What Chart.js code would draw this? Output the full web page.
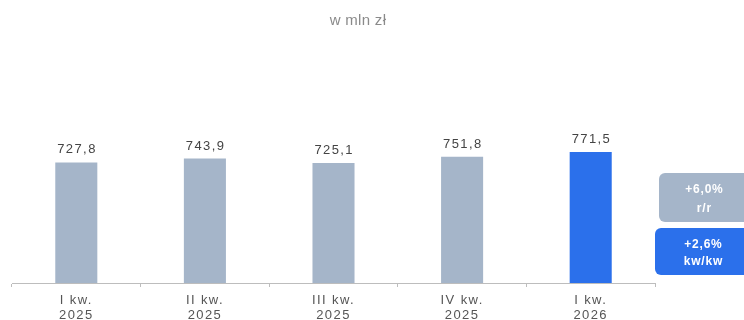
<!DOCTYPE html>
<html lang="pl">
<head>
<meta charset="utf-8">
<title>w mln zł</title>
<script src="https://cdn.jsdelivr.net/npm/chart.js@4/dist/chart.umd.min.js"></script>
<style>
  html, body { margin: 0; padding: 0; background: #ffffff; }
  #wrap { position: relative; width: 744px; height: 320px; }
</style>
</head>
<body>
<div id="wrap"><canvas id="chart" width="744" height="320"></canvas></div>
<script>
// Kwartały (etykiety osi X, dwie linie)
const quarters = [
  ['I kw.', '2025'],
  ['II kw.', '2025'],
  ['III kw.', '2025'],
  ['IV kw.', '2025'],
  ['I kw.', '2026']
];

// Wartości w mln zł
const values = [727.8, 743.9, 725.1, 751.8, 771.5];

// Zmiany dla ostatniego kwartału
const changeValues = ['+6,0%', '+2,6%'];
const changeLabels = ['r/r', 'kw/kw'];

// Zakres osi wartości (oś ukryta)
const axisMin = 219;
const axisMax = 1244;

const GREY = '#a5b5c9';
const BLUE = '#2b70eb';
const FONT = '"Liberation Sans", Arial, sans-serif';

const barColors = values.map((v, i) => i === values.length - 1 ? BLUE : GREY);

const fmt = v => v.toFixed(1).replace('.', ',');

// Odstępy między literami dla całego tekstu wykresu
const spacingPlugin = {
  id: 'spacing',
  beforeDraw(chart) {
    chart.ctx.letterSpacing = '1.4px';
  }
};

// Tytuł, etykiety wartości nad słupkami oraz ramki ze zmianami
const annotations = {
  id: 'annotations',
  afterDraw(chart) {
    const ctx = chart.ctx;
    const meta = chart.getDatasetMeta(0);
    ctx.save();

    // tytuł
    ctx.letterSpacing = '0.3px';
    ctx.font = '15px ' + FONT;
    ctx.fillStyle = '#8a8a8a';
    ctx.textAlign = 'center';
    ctx.textBaseline = 'alphabetic';
    ctx.fillText('w mln zł', 358, 25);

    // wartości nad słupkami
    ctx.letterSpacing = '1.4px';
    ctx.font = '13px ' + FONT;
    ctx.fillStyle = '#444444';
    ctx.textBaseline = 'alphabetic';
    meta.data.forEach((bar, i) => {
      ctx.fillText(fmt(values[i]), bar.x + 0.7, bar.y - 9);
    });

    // ramki ze zmianami
    const boxes = [
      { x: 659, y: 173, h: 49, color: GREY, tx: 704, l1: 190, l2: 209 },
      { x: 655, y: 228, h: 47, color: BLUE, tx: 703, l1: 244.5, l2: 261.5 }
    ];
    boxes.forEach((b, i) => {
      ctx.fillStyle = b.color;
      ctx.beginPath();
      ctx.roundRect(b.x, b.y, 110, b.h, 6);
      ctx.fill();
      ctx.fillStyle = '#ffffff';
      ctx.font = 'bold 12px ' + FONT;
      ctx.letterSpacing = '0.8px';
      ctx.textBaseline = 'middle';
      ctx.fillText(changeValues[i], b.tx + 0.4, b.l1);
      ctx.fillText(changeLabels[i], b.tx + 0.4, b.l2);
    });

    ctx.restore();
  }
};

new Chart(document.getElementById('chart'), {
  type: 'bar',
  data: {
    labels: quarters,
    datasets: [{
      data: values,
      backgroundColor: barColors,
      borderWidth: 0,
      categoryPercentage: 1,
      barPercentage: 0.327
    }]
  },
  options: {
    responsive: false,
    animation: false,
    events: [],
    layout: { padding: { top: 40, left: 12, right: 89, bottom: 0 } },
    plugins: {
      legend: { display: false },
      title: { display: false },
      tooltip: { enabled: false }
    },
    scales: {
      x: {
        offset: true,
        afterFit(scale) { scale.height = 37; },
        border: { display: true, color: '#bdbdbd', width: 1 },
        grid: {
          offset: true,
          drawOnChartArea: false,
          drawTicks: true,
          tickLength: 4,
          color: '#bdbdbd'
        },
        ticks: {
          padding: 6,
          color: '#555555',
          font: { family: FONT, size: 13, lineHeight: 1.15 },
          maxRotation: 0,
          autoSkip: false
        }
      },
      y: {
        display: false,
        min: axisMin,
        max: axisMax
      }
    }
  },
  plugins: [spacingPlugin, annotations]
});
</script>
</body>
</html>
